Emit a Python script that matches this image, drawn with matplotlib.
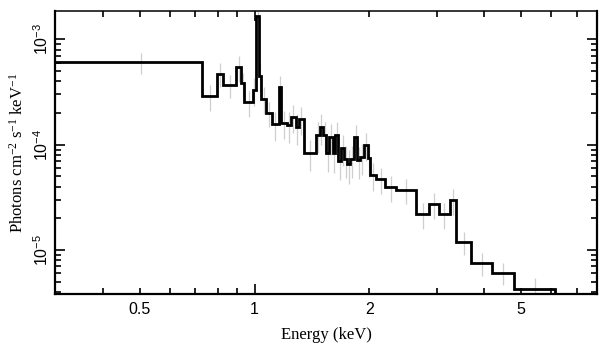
import numpy as np
import matplotlib
matplotlib.use('Agg')
import matplotlib.pyplot as plt
from matplotlib.ticker import FixedLocator, FuncFormatter, NullFormatter

plt.rcParams['mathtext.fontset'] = 'custom'
plt.rcParams['mathtext.rm'] = 'Liberation Serif'
plt.rcParams['mathtext.sf'] = 'Liberation Sans'
plt.rcParams['mathtext.it'] = 'Liberation Serif:italic'

# bin edges (keV) and unfolded flux (photons cm^-2 s^-1 keV^-1)
edges = [0.28, 0.729, 0.797, 0.829, 0.895, 0.921, 0.941, 0.988, 1.010, 1.029,
         1.039, 1.073, 1.111, 1.156, 1.175, 1.216, 1.245, 1.282, 1.305, 1.345,
         1.452, 1.481, 1.512, 1.543, 1.571, 1.609, 1.628, 1.655, 1.689, 1.720,
         1.751, 1.783, 1.822, 1.861, 1.894, 1.941, 1.988, 2.012, 2.087, 2.203,
         2.355, 2.642, 2.874, 3.048, 3.243, 3.364, 3.698, 4.182, 4.775, 6.118]
flux = [6.05e-4, 2.90e-4, 4.72e-4, 3.66e-4, 5.42e-4, 3.82e-4, 2.53e-4, 3.30e-4, 1.66e-3,
        4.49e-4, 2.73e-4, 2.01e-4, 1.56e-4, 3.50e-4, 1.62e-4, 1.54e-4, 1.85e-4, 1.47e-4,
        1.77e-4, 8.34e-5, 1.24e-4, 1.47e-4, 1.24e-4, 8.34e-5, 1.18e-4, 8.34e-5, 1.24e-4,
        7.0e-5, 9.3e-5, 7.32e-5, 6.56e-5, 7.32e-5, 1.18e-4, 7.16e-5, 7.64e-5, 1.0e-4,
        7.48e-5, 5.16e-5, 4.69e-5, 3.94e-5, 3.72e-5, 2.20e-5, 2.74e-5, 2.20e-5, 2.99e-5,
        1.20e-5, 7.49e-6, 6.10e-6, 4.28e-6]
# fractional 1-sigma errors
err_frac = [0.22, 0.28, 0.25, 0.24, 0.28, 0.26, 0.28, 0.30, 0.12,
            0.30, 0.28, 0.27, 0.30, 0.28, 0.30, 0.32, 0.30, 0.32,
            0.30, 0.32, 0.32, 0.32, 0.32, 0.34, 0.32, 0.35, 0.32,
            0.34, 0.32, 0.34, 0.36, 0.34, 0.30, 0.34, 0.32, 0.30,
            0.34, 0.30, 0.28, 0.28, 0.26, 0.28, 0.28, 0.28, 0.28,
            0.25, 0.24, 0.24, 0.26]

edges = np.array(edges)
flux = np.array(flux)
centers = 0.5 * (edges[:-1] + edges[1:])
yerr = flux * np.array(err_frac)

fig = plt.figure(figsize=(6.08, 3.57), dpi=100)
ax = fig.add_axes([0.0905, 0.1765, 0.8915, 0.7915])

ax.errorbar(centers, flux, yerr=yerr, fmt='none', ecolor='#cfcfcf',
            elinewidth=0.9, capsize=0, zorder=1)
ax.stairs(flux, edges, baseline=1e-8, color='black', linewidth=2.0, zorder=2)

ax.set_xscale('log')
ax.set_yscale('log')
ax.set_xlim(0.3, 7.9)
ax.set_ylim(3.83e-6, 1.84e-3)

for s in ax.spines.values():
    s.set_linewidth(1.6)
ax.spines['top'].set_linewidth(1.1)

ax.xaxis.set_major_locator(FixedLocator([1.0]))
ax.xaxis.set_minor_locator(FixedLocator([0.3, 0.4, 0.5, 0.6, 0.7, 0.8, 0.9,
                                         2, 3, 4, 5, 6, 7]))
ax.xaxis.set_major_formatter(FuncFormatter(lambda v, p: '1'))
lab = {0.5: '0.5', 2: '2', 5: '5'}
ax.xaxis.set_minor_formatter(FuncFormatter(lambda v, p: lab.get(round(v, 2), '')))

ax.yaxis.set_major_formatter(FuncFormatter(
    lambda v, p: r'$\mathsf{10^{%d}}$' % int(round(np.log10(v)))))
ax.yaxis.set_minor_formatter(NullFormatter())

ax.tick_params(which='both', direction='in', top=True, right=True, width=1.2)
ax.tick_params(which='major', length=7)
ax.tick_params(which='minor', length=4)
ax.tick_params(axis='x', which='both', labelsize=11.5, pad=6)
ax.tick_params(axis='y', which='major', labelsize=11.5, pad=3, labelrotation=90)
for t in ax.get_xticklabels(which='both'):
    t.set_fontfamily('Liberation Sans')
for t in ax.get_yticklabels():
    t.set_va('center')

ax.set_xlabel('Energy (keV)', fontfamily='Liberation Serif', fontsize=12, labelpad=7)
ax.set_ylabel(r'Photons cm$^{-2}$ s$^{-1}$ keV$^{-1}$', fontfamily='Liberation Serif',
              fontsize=12, labelpad=4)

fig.savefig('out.png', dpi=100)
